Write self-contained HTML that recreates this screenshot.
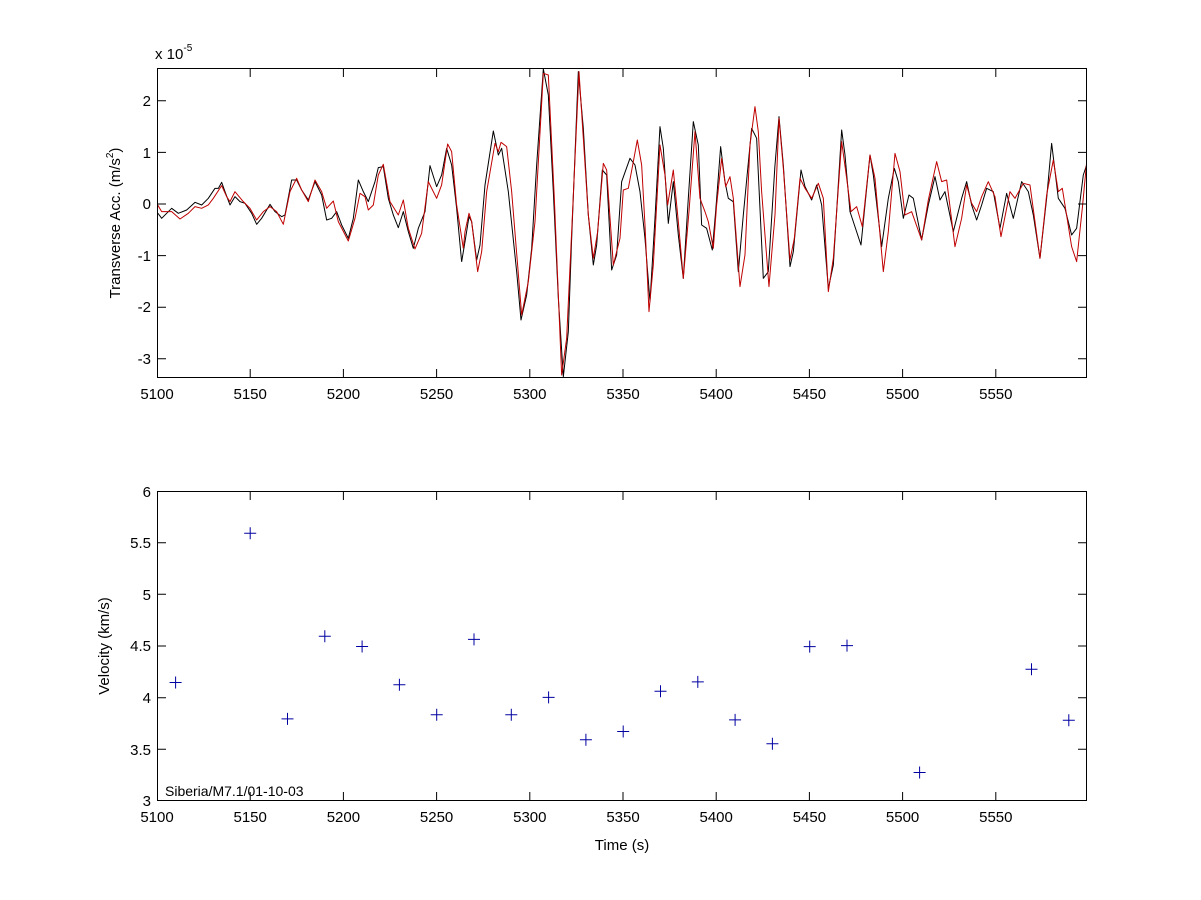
<!DOCTYPE html>
<html><head><meta charset="utf-8"><style>
html,body{margin:0;padding:0;background:#fff}
svg{display:block;font-family:"Liberation Sans",Arial,sans-serif}
</style></head><body>
<svg width="1201" height="900" viewBox="0 0 1201 900" xmlns="http://www.w3.org/2000/svg">
<rect width="1201" height="900" fill="#fff"/>
<defs><clipPath id="c1"><rect x="157" y="68" width="930" height="310"/></clipPath></defs>
<g clip-path="url(#c1)" fill="none" stroke-linejoin="round">
<g transform="translate(155,65) scale(0.3333)">
<polyline stroke="#000" stroke-width="1" vector-effect="non-scaling-stroke" points="5,440 20,460 50,430 70,445 95,435 120,412 140,420 160,400 180,370 190,370 200,352 210,380 225,420 240,395 255,410 270,415 290,445 305,478 320,460 345,418 360,440 380,455 390,450 410,345 425,345 440,375 460,405 480,350 500,390 515,465 530,460 545,440 560,480 580,520 595,460 610,345 625,380 640,410 660,350 670,308 685,305 700,400 715,450 730,488 745,440 760,500 775,550 790,490 810,440 825,302 845,365 860,330 875,250 890,300 905,430 920,590"/>
<polyline stroke="#c00000" stroke-width="1" vector-effect="non-scaling-stroke" points="5,415 20,440 50,440 75,462 100,445 120,425 140,430 160,420 175,400 200,362 215,395 225,410 240,380 265,410 285,430 305,465 325,440 345,425 365,440 385,478 405,380 425,340 440,375 460,410 480,345 500,380 515,430 535,408 550,470 580,528 600,460 615,385 630,395 640,435 655,420 670,330 685,298 705,410 730,450 745,405 760,490 780,552 800,505 820,350 845,400 860,360 878,237 890,260 905,420 925,550"/>
</g>
<g transform="translate(465,65) scale(0.3333)">
<polyline stroke="#000" stroke-width="1" vector-effect="non-scaling-stroke" points="-10,590 0,530 12,455 20,470 35,585 45,540 60,360 85,198 100,270 110,250 130,380 155,620 168,765 185,690 200,550 215,300 235,12 250,90 265,380 280,700 295,935 310,800 320,520 340,20 355,190 370,450 385,600 395,540 412,315 425,330 440,615 455,570 470,350 495,280 510,300 525,380 540,520 555,710 570,460 585,185 595,250 610,475 625,350 640,510 655,640 670,400 685,170 700,240 710,480 725,490 742,555 752,440 767,245 780,350 790,400 805,410 820,620 835,450 860,190 875,220 895,640 910,620 930,300"/>
<polyline stroke="#c00000" stroke-width="1" vector-effect="non-scaling-stroke" points="-5,550 0,500 12,445 20,470 38,620 50,560 65,380 90,235 100,260 108,232 125,245 140,380 170,750 190,650 210,470 235,25 250,30 268,400 290,930 305,820 320,500 342,20 355,220 370,450 385,580 398,500 415,295 425,315 445,600 465,520 475,375 490,370 505,290 517,225 530,300 540,480 552,740 565,600 585,240 600,330 608,420 625,315 640,470 655,640 672,440 690,200 705,400 720,440 730,470 745,550 755,420 770,280 782,365 795,335 805,400 825,665 840,570 855,240 870,125 880,200 890,380 912,665 930,450"/>
</g>
<g transform="translate(775,65) scale(0.3333)">
<polyline stroke="#000" stroke-width="1" vector-effect="non-scaling-stroke" points="0,300 12,155 25,300 45,605 55,560 78,315 90,365 110,405 125,360 140,420 160,670 175,600 200,195 210,270 225,440 258,540 285,270 295,330 320,545 340,400 358,310 370,350 385,460 402,390 415,400 440,525 460,420 480,335 495,405 510,380 535,500 560,400 575,350 590,420 605,465 620,420 635,370 655,380 675,490 695,385 715,460 740,350 760,380 775,450 795,580 815,400 830,235 850,400 870,430 890,510 905,490 925,330 935,300 945,300"/>
<polyline stroke="#c00000" stroke-width="1" vector-effect="non-scaling-stroke" points="0,450 12,160 25,310 45,585 58,520 75,340 90,370 110,400 130,355 145,400 160,680 175,580 200,230 215,340 228,440 245,425 262,485 285,270 300,340 325,620 340,500 360,265 375,320 390,450 410,440 440,525 460,405 485,290 500,350 515,345 540,545 560,460 575,360 590,415 605,440 620,395 640,350 660,395 678,515 705,380 720,400 745,355 765,360 795,580 815,390 835,285 850,380 862,370 890,545 905,590 922,430 938,260 945,250"/>
</g>
</g>
<g stroke="#000" stroke-width="1" fill="none">
<rect x="157.5" y="68.5" width="929" height="309"/>
<rect x="157.5" y="491.5" width="929" height="309"/>
<path d="M250.2,68v9M343.4,68v9M436.6,68v9M529.8,68v9M623,68v9M716.2,68v9M809.4,68v9M902.6,68v9M995.8,68v9
M250.2,378v-9M343.4,378v-9M436.6,378v-9M529.8,378v-9M623,378v-9M716.2,378v-9M809.4,378v-9M902.6,378v-9M995.8,378v-9
M157,100.8h9M157,152.4h9M157,204h9M157,255.6h9M157,307.2h9M157,358.8h9
M1087,100.8h-9M1087,152.4h-9M1087,204h-9M1087,255.6h-9M1087,307.2h-9M1087,358.8h-9
M250.2,491v9M343.4,491v9M436.6,491v9M529.8,491v9M623,491v9M716.2,491v9M809.4,491v9M902.6,491v9M995.8,491v9
M250.2,801v-9M343.4,801v-9M436.6,801v-9M529.8,801v-9M623,801v-9M716.2,801v-9M809.4,801v-9M902.6,801v-9M995.8,801v-9
M157,749.3h9M157,697.7h9M157,646h9M157,594.3h9M157,542.7h9
M1087,749.3h-9M1087,697.7h-9M1087,646h-9M1087,594.3h-9M1087,542.7h-9"/>
</g>
<g font-size="15" fill="#000">
<g text-anchor="middle">
<text x="157" y="399">5100</text><text x="250.2" y="399">5150</text><text x="343.4" y="399">5200</text><text x="436.6" y="399">5250</text><text x="529.8" y="399">5300</text><text x="623" y="399">5350</text><text x="716.2" y="399">5400</text><text x="809.4" y="399">5450</text><text x="902.6" y="399">5500</text><text x="995.8" y="399">5550</text>
<text x="157" y="822">5100</text><text x="250.2" y="822">5150</text><text x="343.4" y="822">5200</text><text x="436.6" y="822">5250</text><text x="529.8" y="822">5300</text><text x="623" y="822">5350</text><text x="716.2" y="822">5400</text><text x="809.4" y="822">5450</text><text x="902.6" y="822">5500</text><text x="995.8" y="822">5550</text>
<text x="622" y="850">Time (s)</text>
</g>
<g text-anchor="end">
<text x="151" y="106">2</text><text x="151" y="158">1</text><text x="151" y="209">0</text><text x="151" y="261">-1</text><text x="151" y="312">-2</text><text x="151" y="364">-3</text>
<text x="151" y="806">3</text><text x="151" y="755">3.5</text><text x="151" y="703">4</text><text x="151" y="651">4.5</text><text x="151" y="600">5</text><text x="151" y="548">5.5</text><text x="151" y="497">6</text>
</g>
<text x="155" y="59">x 10<tspan font-size="10" dy="-8">-5</tspan></text>
<text transform="translate(120,223) rotate(-90)" text-anchor="middle">Transverse Acc. (m/s<tspan font-size="10" dy="-7">2</tspan><tspan dy="7">)</tspan></text>
<text transform="translate(109,646) rotate(-90)" text-anchor="middle">Velocity (km/s)</text>
<text x="165" y="796" font-size="14">Siberia/M7.1/01-10-03</text>
</g>
<path stroke="#0000a0" stroke-width="1" fill="none" d="
M169.6,682.5h12M175.6,676.5v12
M244.2,533.2h12M250.2,527.2v12
M281.5,718.9h12M287.5,712.9v12
M318.8,636.2h12M324.8,630.2v12
M356.1,646.5h12M362.1,640.5v12
M393.4,684.7h12M399.4,678.7v12
M430.7,714.8h12M436.7,708.8v12
M468.0,639.4h12M474.0,633.4v12
M505.3,714.8h12M511.3,708.8v12
M542.6,697.4h12M548.6,691.4v12
M579.9,739.8h12M585.9,733.8v12
M617.2,731.5h12M623.2,725.5v12
M654.5,691.2h12M660.5,685.2v12
M691.8,681.9h12M697.8,675.9v12
M729.1,719.9h12M735.1,713.9v12
M766.4,743.8h12M772.4,737.8v12
M803.7,646.6h12M809.7,640.6v12
M841.0,645.6h12M847.0,639.6v12
M913.6,772.5h12M919.6,766.5v12
M1025.5,669.2h12M1031.5,663.2v12
M1062.8,720.2h12M1068.8,714.2v12"/>
</svg>
</body></html>
